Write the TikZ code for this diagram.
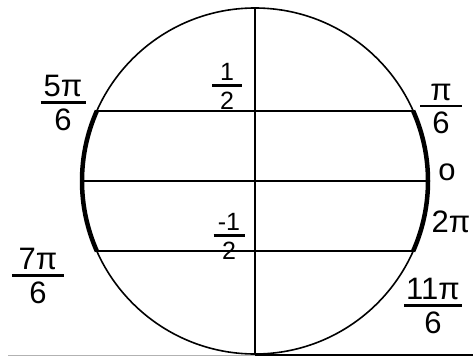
\documentclass[tikz,border=0pt]{standalone}
\usepackage{fontspec}
\setmainfont{Liberation Sans}
\usetikzlibrary{calc}
% stacked fraction: numerator, denominator, bar width
\newcommand{\fr}[3]{%
  \vbox{\offinterlineskip
    \halign{\hfil##\hfil\cr
      #1\cr
      \noalign{\kern4pt}
      \vrule width #3 height 2.5pt depth 0pt\cr
      \noalign{\kern5pt}
      #2\cr}}}

\begin{document}
\begin{tikzpicture}[x=1pt, y=-1pt,
    big/.style={font=\fontsize{31}{31}\selectfont, inner sep=0pt},
    small/.style={font=\fontsize{25}{25}\selectfont, inner sep=0pt},
    chord/.style={line width=2.1pt},
    thick arc/.style={line width=4.5pt}]
    \useasboundingbox (0,0) rectangle (473,361);

    % Circle
    \coordinate (O) at (255,181);
    \draw[line width=1.6pt] (O) circle (173);

    % Points on the circle
    \coordinate (top) at ($(O)+(0,-173)$);
    \coordinate (bot) at ($(O)+(0,173)$);
    \coordinate (a1) at ($(O)+(204:173)$);
    \coordinate (a2) at ($(O)+(-24:173)$);
    \coordinate (m1) at ($(O)+(180:173)$);
    \coordinate (m2) at ($(O)+(0:173)$);
    \coordinate (b1) at ($(O)+(156:173)$);
    \coordinate (b2) at ($(O)+(24:173)$);

    % Axis and chords
    \draw[chord] (top) -- (bot);
    \draw[chord] (a1) -- (a2);
    \draw[chord] (m1) -- (m2);
    \draw[chord] (b1) -- (b2);

    % Arcs
    \draw[thick arc] (a1) arc[start angle=204, end angle=156, radius=173];
    \draw[thick arc] (a2) arc[start angle=-24, end angle=24, radius=173];

    % Base line
    \coordinate (g0) at (8,355);
    \coordinate (g1) at (bot |- g0);
    \coordinate (g2) at (473,355);
    \draw[gray!60, line width=1pt] (g0) -- (g1);
    \draw[line width=1.8pt] (g1) -- (g2);

    % Labels
    \node[big] (l5) at (63,103) {\fr{5π}{6}{45pt}};
    \node[big] (l1) at (441,109) {\fr{π}{6}{42pt}};
    \node[big] (l0) at (447,172) {o};
    \node[big] (l2) at (451,222) {2π};
    \node[big] (l7) at (38,276) {\fr{7π}{6}{52pt}};
    \node[big] (l11) at (433,306) {\fr{11π}{6}{58pt}};
    \node[small] (h1) at (227,86) {\fr{1}{2}{30pt}};
    \node[small] (h2) at (229,236) {\fr{-1}{2}{31pt}};
\end{tikzpicture}
\end{document}
